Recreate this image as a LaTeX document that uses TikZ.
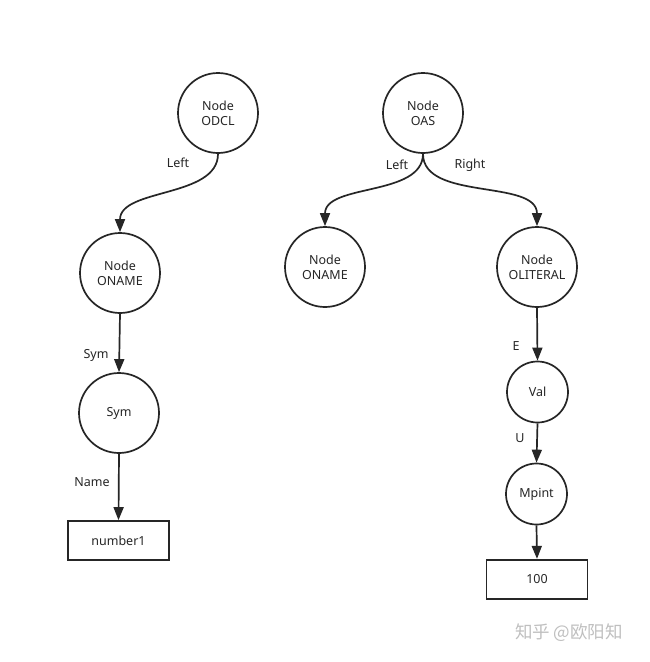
\documentclass[tikz,border=0pt]{standalone}
\usepackage{fontspec}
\setmainfont{Noto Sans}
\newfontfamily\cjkfont{Noto Sans CJK SC}
\usetikzlibrary{arrows.meta}
\begin{document}
\begin{tikzpicture}[x=1pt,y=-1pt,
  every node/.style={font=\fontsize{12.5}{15}\selectfont, text=black!85},
  bignode/.style={circle, draw=black!85, line width=1.7pt, minimum size=80pt, inner sep=0pt, align=center},
  smallnode/.style={circle, draw=black!85, line width=1.7pt, minimum size=61pt, inner sep=0pt, align=center},
  valbox/.style={rectangle, draw=black!85, line width=1.7pt, minimum width=101pt, minimum height=39pt, inner sep=0pt},
  conn/.style={draw=black!85, line width=1.7pt, -{Triangle[length=13pt,width=10pt]}},
  lbl/.style={inner sep=0pt}
]
\useasboundingbox (0,0) rectangle (649,662);
\fill[white] (0,0) rectangle (649,662);

% nodes
\node[bignode] (odcl) at (218,113) {Node\\ODCL};
\node[bignode] (oas) at (423,113) {Node\\OAS};
\node[bignode] (oname1) at (120,273) {Node\\ONAME};
\node[bignode] (oname2) at (325,267) {Node\\ONAME};
\node[bignode] (olit) at (537,267) {Node\\OLITERAL};
\node[bignode] (sym) at (119,413) {Sym};
\node[valbox] (num) at (118.5,540.5) {number1};
\node[smallnode] (val) at (537.5,392) {Val};
\node[smallnode] (mpint) at (536.5,494) {Mpint};
\node[valbox] (hundred) at (537,579.2) {100};

% connectors
\draw[conn] (odcl.south) to[out=-90,in=90,looseness=0.9] (oname1.north);
\draw[conn] (oas.south) to[out=-90,in=90,looseness=0.9] (oname2.north);
\draw[conn] (oas.south) to[out=-90,in=90,looseness=0.9] (olit.north);
\draw[conn] (oname1.south) -- (sym.north);
\draw[conn] (sym.south) -- (num.north);
\draw[conn] (olit.south) -- (val.north);
\draw[conn] (val.south) -- (mpint.north);
\draw[conn] (mpint.south) -- (hundred.north);

% labels
\node[lbl] (l1) at (178,163) {Left};
\node[lbl] (l2) at (397,165) {Left};
\node[lbl] (l3) at (470,165) {Right};
\node[lbl] (l4) at (96,355) {Sym};
\node[lbl] (l5) at (92,482) {Name};
\node[lbl] (l6) at (516,346) {E};
\node[lbl] (l7) at (520,438) {U};

% watermark
\node[font=\cjkfont\fontsize{17.5}{19}\selectfont, text=black!25] (wm) at (569,633) {知乎 @欧阳知};
\end{tikzpicture}
\end{document}
